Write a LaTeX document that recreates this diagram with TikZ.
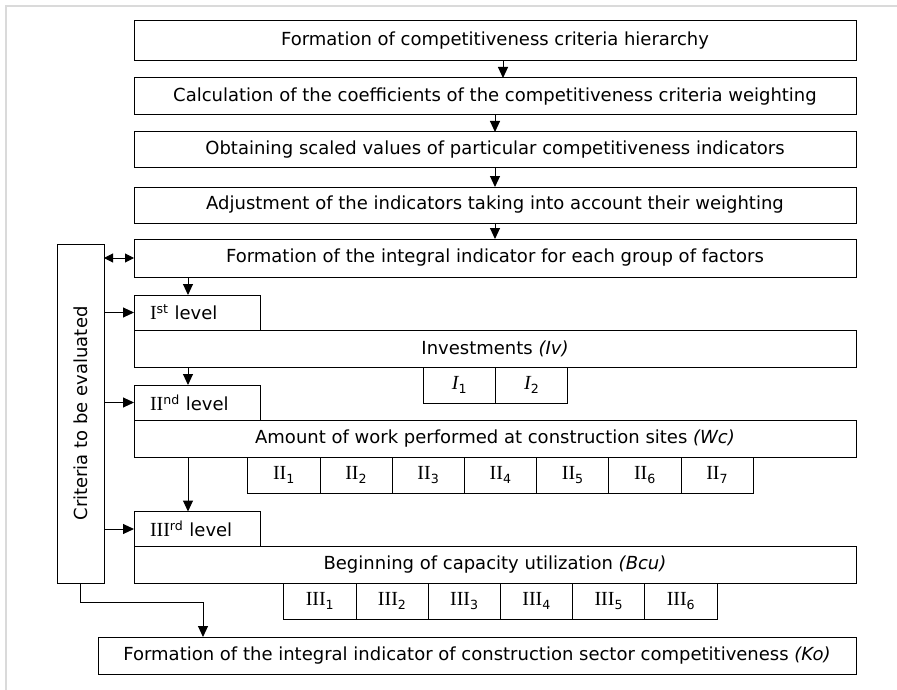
\documentclass[tikz,border=0pt]{standalone}
\usepackage{fontspec}
\setmainfont{DejaVu Sans}
\newfontfamily\rmnum{Liberation Serif}
\usetikzlibrary{arrows.meta,positioning}
\definecolor{framegray}{RGB}{218,218,218}

\newcommand{\rn}[1]{{\rmnum\fontsize{20}{24}\selectfont #1}}
\newcommand{\rnsub}[2]{\rn{#1}\textsubscript{#2}}

\tikzset{
  box/.style={draw, line width=1pt, inner sep=0pt, outer sep=0pt, minimum width=722pt, minimum height=37pt},
  lvlbox/.style={draw, line width=1pt, inner xsep=16pt, inner ysep=0pt, outer sep=0pt, text width=94pt, align=left, minimum height=35pt},
  cell/.style={draw, line width=1pt, inner sep=0pt, outer sep=0pt, minimum width=72.2pt, minimum height=36pt},
  arr/.style={line width=1pt, -{Triangle[length=11pt,width=10pt]}},
  dbl/.style={line width=1pt, {Triangle[length=9pt,width=9pt]}-{Triangle[length=9pt,width=9pt]}},
}

\begin{document}
\begin{tikzpicture}[x=1pt, y=-1pt, font=\fontsize{18}{21}\selectfont]
\useasboundingbox (0,0) rectangle (897,690);
% frame
\draw[framegray, line width=2pt] (6,690) -- (6,6) -- (897,6);

% main steps
\node[box, minimum height=40pt] (f1) at (495,41) {Formation of competitiveness criteria hierarchy};
\node[box] (f2) at (495,96.5) {Calculation of the coefficients of the competitiveness criteria weighting};
\node[box, minimum height=36pt] (f3) at (495,150) {Obtaining scaled values of particular competitiveness indicators};
\node[box, minimum height=36pt] (f4) at (495,205) {Adjustment of the indicators taking into account their weighting};
\node[box, minimum height=38pt] (f5) at (495,258) {Formation of the integral indicator for each group of factors};

% criteria
\node[draw, line width=1pt, minimum width=47pt, minimum height=339pt, inner sep=0pt, outer sep=0pt] (crit) at (80.5,413.5) {};
\node[rotate=90] (critlbl) at (crit.center) {Criteria to be evaluated};

% level I
\node[lvlbox] (lv1) at (197,312.5) {\rn{I}\textsuperscript{st} level};
\node[box] (inv) at (495,348.5) {Investments \textit{(Iv)}};
\node[cell] (i1) at (459.5,385) {\rn{\itshape I}\textsubscript{1}};
\node[cell, right=0pt of i1] (i2) {\rn{\itshape I}\textsubscript{2}};

% level II
\node[lvlbox] (lv2) at (197,402.5) {\rn{II}\textsuperscript{nd} level};
\node[box] (amt) at (495,438.5) {Amount of work performed at construction sites \textit{(Wc)}};
\node[cell] (ii1) at (284,475) {\rnsub{II}{1}};
\foreach \i [remember=\i as \j (initially 1)] in {2,...,7}
  \node[cell, right=0pt of ii\j] (ii\i) {\rnsub{II}{\i}};

% level III
\node[lvlbox] (lv3) at (197,529) {\rn{III}\textsuperscript{rd} level};
\node[box] (beg) at (495,565) {Beginning of capacity utilization \textit{(Bcu)}};
\node[cell] (iii1) at (320,601) {\rnsub{III}{1}};
\foreach \i [remember=\i as \j (initially 1)] in {2,...,6}
  \node[cell, right=0pt of iii\j] (iii\i) {\rnsub{III}{\i}};

% result
\node[box, minimum width=758pt] (fin) at (477,655.5) {Formation of the integral indicator of construction sector competitiveness \textit{(Ko)}};

% arrows
\draw[arr] ([xshift=8pt]f1.south) -- ([xshift=8pt]f2.north);
\draw[arr] (f2) -- (f3);
\draw[arr] (f3) -- (f4);
\draw[arr] (f4) -- (f5);
\draw[dbl] (crit.east |- f5) -- (f5.west);
\draw[arr] ([xshift=-9pt]lv1.north |- f5.south) -- ([xshift=-9pt]lv1.north);
\draw[arr] ([xshift=-9pt]lv2.north |- inv.south) -- ([xshift=-9pt]lv2.north);
\draw[arr] ([xshift=-9pt]lv3.north |- amt.south) -- ([xshift=-9pt]lv3.north);
\foreach \l in {lv1,lv2,lv3}
  \draw[arr] (crit.east |- \l.west) -- (\l.west);
\draw[arr] (crit.south) -- ++(0,19) -| ([xshift=-274pt]fin.north);
\end{tikzpicture}
\end{document}
